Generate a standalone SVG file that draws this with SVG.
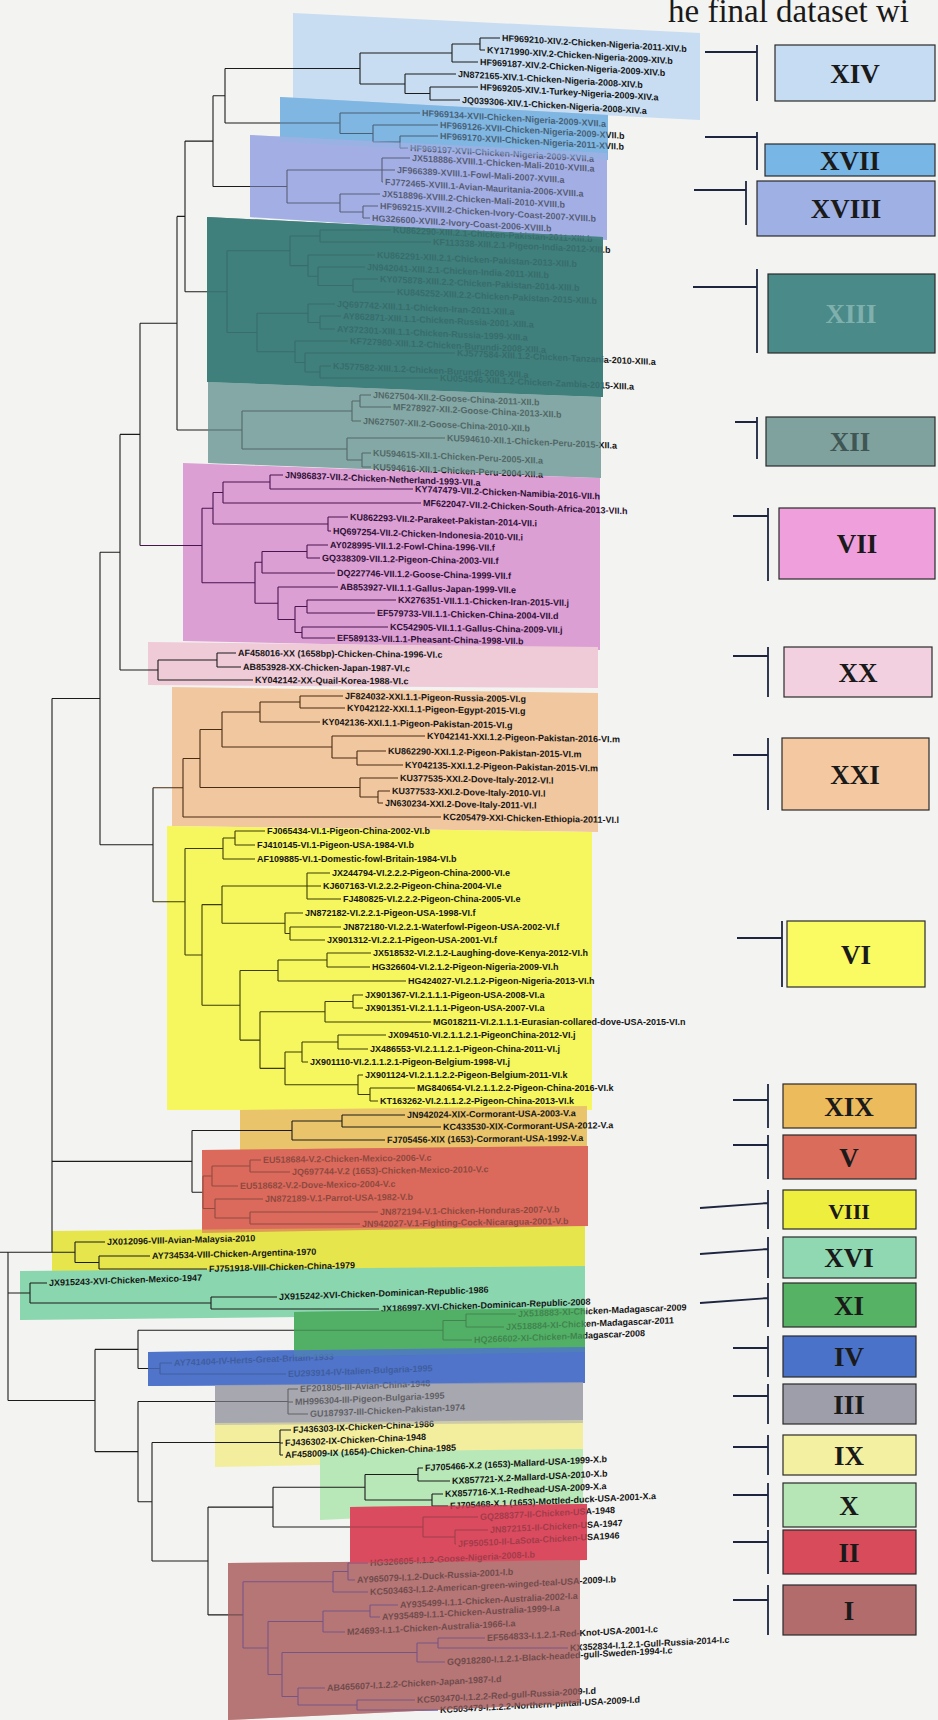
<svg xmlns="http://www.w3.org/2000/svg" width="938" height="1720" viewBox="0 0 938 1720">
<style>
.t{font-family:'Liberation Sans',Arial,sans-serif;font-size:9px;font-weight:bold;fill:#151515}
.tv{fill:#2e0f36}
.ln{fill:none;stroke:#1c1c1c;stroke-width:1.1}
.box{stroke:#2a2a2a;stroke-width:1.2}
.bt{font-family:'Liberation Serif','Times New Roman',serif;font-size:27px;font-weight:bold;fill:#1a1a1a;text-anchor:middle}
.br{fill:none;stroke:#1d2540;stroke-width:1.8}
</style>
<rect width="938" height="1720" fill="#f3f3f1"/>
<text x="668" y="22" font-family="'Liberation Serif','Times New Roman',serif" font-size="33" fill="#1a1a1a">he final dataset wi</text>

<g id="bands">
<polygon fill="#c8ddf1" points="293,13 700,33 700,120 293,100"/>
<polygon fill="#80b6e2" points="280,97 608,115 608,160 280,142"/>
<polygon fill="#a3b0e4" points="250,135 607,153 607,240 250,217"/>
<polygon fill="#3f7f7d" points="207,217 603,237 603,397 207,382"/>
<polygon fill="#84a8a5" points="208,382 601,397 601,478 208,463"/>
<polygon fill="#dc9fd3" points="183,463 600,478 600,650 183,641"/>
<polygon fill="#efcbd8" points="148,642 598,647 598,688 148,685"/>
<polygon fill="#f1c7a0" points="172,687 598,693 598,832 172,826"/>
<polygon fill="#f6f65e" points="167,826 592,832 592,1110 167,1110"/>
<polygon fill="#e9c46b" points="240,1110 587,1106 587,1152 240,1152"/>
<polygon fill="#db6a5c" points="202,1150 588,1146 588,1226 202,1233"/>
<polygon fill="#e6e64c" points="52,1231 585,1226 585,1270 52,1276"/>
<polygon fill="#8ad6ae" points="20,1271 585,1266 585,1314 20,1320"/>
<polygon fill="#52b066" points="294,1312 585,1308 585,1352 294,1357"/>
<polygon fill="#4f74c9" points="148,1352 585,1347 585,1383 148,1386"/>
<polygon fill="#a7a7b0" points="215,1385 583,1382 583,1423 215,1425"/>
<polygon fill="#f2ee9e" points="215,1423 583,1420 583,1460 215,1467"/>
<polygon fill="#b8e7b8" points="320,1452 583,1449 583,1508 320,1520"/>
<polygon fill="#b67677" points="228,1563 580,1560 580,1703 228,1720"/>
<polygon fill="#da4c5f" points="350,1507 587,1504 587,1560 350,1563"/>
</g>

<g id="connectors">
<path id="c-backbone" class="ln" d="M225,68.5V123 M213,95.75V186.5 M213,95.75H225 M185,141.1V291.7 M185,141.1H213 M177,216.4V430 M177,216.4H185 M140,323.2V545.5 M140,323.2H177 M120,434.4V670 M120,434.4H140 M153,787.75V901.75 M100,552.2V844.75 M100,552.2H120 M100,844.75H153 M52,698.5V1252.25 M52,698.5H100 M0,1252.25H8 M8,1252.25V1400.5 M8,1400.5H95"/>
<path id="c-XIV" class="ln" d="M480,38V50 M480,38H500 M480,50H485 M452,44V62 M452,44H480 M452,62H478 M430,87V100 M430,87H478 M430,100H460 M405,74V93.5 M405,74H456 M405,93.5H430 M360,53V84 M360,53H452 M360,84H405 M225,68.5H360"/>
<path id="c-XVII" class="ln" d="M400,136V148 M400,136H438 M400,148H408 M373,125V142 M373,125H438 M373,142H400 M340,113V133.5 M340,113H420 M340,133.5H373 M225,123H340"/>
<path id="c-XVIII" class="ln" d="M382,158V182 M382,158H410 M382,170H395 M382,182H383 M363,206V218 M363,206H378 M363,218H370 M340,194V212 M340,194H380 M340,212H363 M287,170V203 M287,170H382 M287,203H340 M213,186.5H287"/>
<path id="c-XIII" class="ln" d="M320,230V242 M320,230H391 M320,242H431 M353,279V292 M353,279H378 M353,292H395 M318,267V285.5 M318,267H365 M318,285.5H353 M308,255V276.25 M308,255H375 M308,276.25H318 M290,236V265.6 M290,236H320 M290,265.6H308 M320,316V329 M320,316H341 M320,329H335 M308,304V322.5 M308,304H335 M308,322.5H320 M320,366V378 M320,366H331 M320,378H438 M305,353V372 M305,353H455 M305,372H320 M295,341V362.5 M295,341H348 M295,362.5H305 M257,313.25V351.75 M257,313.25H308 M257,351.75H295 M227,250.8V332.5 M227,250.8H290 M227,332.5H257 M185,291.7H227"/>
<path id="c-XII" class="ln" d="M360,395V407 M360,395H371 M360,407H391 M352,401V421 M352,401H360 M352,421H361 M362,453V467 M362,453H371 M362,467H371 M347,438V460 M347,438H445 M347,460H362 M242,411V449 M242,411H352 M242,449H347 M177,430H242"/>
<path id="c-VII" class="ln" style="stroke:#4a1450" d="M270,475V489 M270,475H283 M270,489H413 M223,482V503 M223,482H270 M223,503H421 M328,517V531 M328,517H348 M328,531H331 M213,492.5V524 M213,492.5H223 M213,524H328 M307,545V558 M307,545H328 M307,558H320 M262,551.5V573 M262,551.5H307 M262,573H335 M307,600V613 M307,600H396 M307,613H375 M302,627V638 M302,627H388 M302,638H335 M295,606.5V632.5 M295,606.5H307 M295,632.5H302 M278,587V619.5 M278,587H338 M278,619.5H295 M255,562.25V603.25 M255,562.25H262 M255,603.25H278 M202,508.25V582.75 M202,508.25H213 M202,582.75H255 M140,545.5H202"/>
<path id="c-XX" class="ln" d="M217,653V667 M217,653H236 M217,667H241 M158,660V680 M158,660H217 M158,680H253 M120,670H158"/>
<path id="c-XXI" class="ln" style="stroke:#4a2c12" d="M300,696V708 M300,696H343 M300,708H345 M260,702V722 M260,702H300 M260,722H320 M357,751V765 M357,751H386 M357,765H403 M332,736V758 M332,736H425 M332,758H357 M222,712V747 M222,712H260 M222,747H332 M378,791V803 M378,791H390 M378,803H383 M360,778V797 M360,778H398 M360,797H378 M200,729.5V787.5 M200,729.5H222 M200,787.5H360 M183,758.5V817 M183,758.5H200 M183,817H441 M153,787.75H183"/>
<path id="c-VI" class="ln" style="stroke:#3d3d05" d="M235,831V845 M235,831H265 M235,845H255 M223,838V859 M223,838H235 M223,859H255 M307,873V899 M307,873H330 M307,886H321 M307,899H341 M290,927V940 M290,927H341 M290,940H325 M285,913V933.5 M285,913H303 M285,933.5H290 M222,886V923.25 M222,886H307 M222,923.25H285 M327,953V967 M327,953H371 M327,967H370 M278,960V981 M278,960H327 M278,981H406 M353,995V1008 M353,995H363 M353,1008H363 M325,1001.5V1022 M325,1001.5H353 M325,1022H431 M338,1035V1049 M338,1035H386 M338,1049H368 M302,1042V1062 M302,1042H338 M302,1062H308 M370,1088V1101 M370,1088H415 M370,1101H378 M358,1075V1094.5 M358,1075H363 M358,1094.5H370 M285,1052V1084.75 M285,1052H302 M285,1084.75H358 M260,1011.75V1068.4 M260,1011.75H325 M260,1068.4H285 M240,970.5V1040.1 M240,970.5H278 M240,1040.1H260 M202,904.6V1005.3 M202,904.6H222 M202,1005.3H240 M185,848.5V955 M185,848.5H223 M185,955H202 M153,901.75H185"/>
<path id="c-XIX-V" class="ln" d="M342,1115V1127 M342,1115H405 M342,1127H441 M292,1121V1140 M292,1121H342 M292,1140H385 M250,1160V1172 M250,1160H261 M250,1172H290 M212,1166V1186 M212,1166H250 M212,1186H238 M250,1212V1224 M250,1212H378 M250,1224H360 M215,1199V1218 M215,1199H263 M215,1218H250 M203,1176V1208.5 M203,1176H212 M203,1208.5H215 M192,1130.5V1192.25 M192,1130.5H292 M192,1192.25H203 M52,1161.4H192"/>
<path id="c-VIII" class="ln" d="M99,1256V1269 M99,1256H150 M99,1269H207 M75,1242V1262.5 M75,1242H105 M75,1262.5H99 M8,1252.25H75"/>
<path id="c-XVI" class="ln" d="M211,1297V1309 M211,1297H277 M211,1309H379 M30,1283V1303 M30,1283H47 M30,1303H211 M8,1293H30"/>
<path id="c-XI-IV" class="ln" d="M466,1314V1327 M466,1314H516 M466,1327H504 M443,1320.5V1340 M443,1320.5H466 M443,1340H472 M160,1363V1374 M160,1363H172 M160,1374H286 M138,1330.25V1368.5 M138,1330.25H443 M138,1368.5H160 M95,1349.4V1451.6 M95,1349.4H138 M95,1451.6H138"/>
<path id="c-III-IX" class="ln" d="M288,1389V1414 M288,1389H298 M288,1402H293 M288,1414H308 M280,1430V1455 M280,1430H291 M280,1443H283 M280,1455H283 M138,1401.5V1501.75 M138,1401.5H288 M138,1501.75H152 M152,1442.5V1561 M152,1442.5H280 M152,1561H208"/>
<path id="c-X-II" class="ln" d="M418,1468V1481 M418,1468H423 M418,1481H450 M432,1494V1506 M432,1494H443 M432,1506H448 M365,1474.5V1500 M365,1474.5H418 M365,1500H432 M455,1530V1544 M455,1530H488 M455,1544H456 M423,1517V1537 M423,1517H478 M423,1537H455 M273,1487.25V1527 M273,1487.25H365 M273,1527H423 M208,1507.1V1614.9 M208,1507.1H273 M208,1614.9H243"/>
<path id="c-I" class="ln" style="stroke:#2b2b9a" d="M348,1563V1580 M348,1563H368 M348,1580H355 M333,1571.5V1592 M333,1571.5H348 M333,1592H368 M370,1605V1617 M370,1605H398 M370,1617H380 M323,1611V1632 M323,1611H370 M323,1632H345 M438,1638V1648 M438,1638H485 M438,1648H568 M417,1643V1662 M417,1643H438 M417,1662H445 M357,1700V1710 M357,1700H415 M357,1710H438 M298,1688V1705 M298,1688H325 M298,1705H357 M282,1652.5V1696.5 M282,1652.5H417 M282,1696.5H298 M268,1621.5V1674.5 M268,1621.5H323 M268,1674.5H282 M243,1581.75V1648 M243,1581.75H333 M243,1648H268"/>
</g>

<g id="leaves">
<g id="n-XIV">
<text class="t" transform="translate(502 41) skewY(3.4)">HF969210-XIV.2-Chicken-Nigeria-2011-XIV.b</text>
<text class="t" transform="translate(487 53) skewY(3.4)">KY171990-XIV.2-Chicken-Nigeria-2009-XIV.b</text>
<text class="t" transform="translate(480 65) skewY(3.4)">HF969187-XIV.2-Chicken-Nigeria-2009-XIV.b</text>
<text class="t" transform="translate(458 77) skewY(3.4)">JN872165-XIV.1-Chicken-Nigeria-2008-XIV.b</text>
<text class="t" transform="translate(480 90) skewY(3.4)">HF969205-XIV.1-Turkey-Nigeria-2009-XIV.a</text>
<text class="t" transform="translate(462 103) skewY(3.4)">JQ039306-XIV.1-Chicken-Nigeria-2008-XIV.a</text>
</g>
<g id="n-XVII">
<text class="t" transform="translate(422 116) skewY(3.4)">HF969134-XVII-Chicken-Nigeria-2009-XVII.a</text>
<text class="t" transform="translate(440 128) skewY(3.4)">HF969126-XVII-Chicken-Nigeria-2009-XVII.b</text>
<text class="t" transform="translate(440 139) skewY(3.4)">HF969170-XVII-Chicken-Nigeria-2011-XVII.b</text>
<text class="t" transform="translate(410 151) skewY(3.4)">HF969197-XVII-Chicken-Nigeria-2009-XVII.a</text>
</g>
<g id="n-XVIII">
<text class="t" transform="translate(412 161) skewY(3.4)">JX518886-XVIII.1-Chicken-Mali-2010-XVIII.a</text>
<text class="t" transform="translate(397 173) skewY(3.4)">JF966389-XVIII.1-Fowl-Mali-2007-XVIII.a</text>
<text class="t" transform="translate(385 185) skewY(3.4)">FJ772465-XVIII.1-Avian-Mauritania-2006-XVIII.a</text>
<text class="t" transform="translate(382 197) skewY(3.4)">JX518896-XVIII.2-Chicken-Mali-2010-XVIII.b</text>
<text class="t" transform="translate(380 209) skewY(3.4)">HF969215-XVIII.2-Chicken-Ivory-Coast-2007-XVIII.b</text>
<text class="t" transform="translate(372 221) skewY(3.4)">HG326600-XVIII.2-Ivory-Coast-2006-XVIII.b</text>
</g>
<g id="n-XIII">
<text class="t" transform="translate(393 233) skewY(2.6)">KU862290-XIII.2.1-Chicken-Pakistan-2011-XIII.b</text>
<text class="t" transform="translate(433 245) skewY(2.6)">KF113338-XIII.2.1-Pigeon-India-2012-XIII.b</text>
<text class="t" transform="translate(377 258) skewY(2.6)">KU862291-XIII.2.1-Chicken-Pakistan-2013-XIII.b</text>
<text class="t" transform="translate(367 270) skewY(2.6)">JN942041-XIII.2.1-Chicken-India-2011-XIII.b</text>
<text class="t" transform="translate(380 282) skewY(2.6)">KY075878-XIII.2.2-Chicken-Pakistan-2014-XIII.b</text>
<text class="t" transform="translate(397 295) skewY(2.6)">KU845252-XIII.2.2-Chicken-Pakistan-2015-XIII.b</text>
<text class="t" transform="translate(337 307) skewY(2.6)">JQ697742-XIII.1.1-Chicken-Iran-2011-XIII.a</text>
<text class="t" transform="translate(343 319) skewY(2.6)">AY862871-XIII.1.1-Chicken-Russia-2001-XIII.a</text>
<text class="t" transform="translate(337 332) skewY(2.6)">AY372301-XIII.1.1-Chicken-Russia-1999-XIII.a</text>
<text class="t" transform="translate(350 344) skewY(2.6)">KF727980-XIII.1.2-Chicken-Burundi-2008-XIII.a</text>
<text class="t" transform="translate(457 356) skewY(2.6)">KJ577584-XIII.1.2-Chicken-Tanzania-2010-XIII.a</text>
<text class="t" transform="translate(333 369) skewY(2.6)">KJ577582-XIII.1.2-Chicken-Burundi-2008-XIII.a</text>
<text class="t" transform="translate(440 381) skewY(2.6)">KU054546-XIII.1.2-Chicken-Zambia-2015-XIII.a</text>
</g>
<g id="n-XII">
<text class="t" transform="translate(373 398) skewY(2.6)">JN627504-XII.2-Goose-China-2011-XII.b</text>
<text class="t" transform="translate(393 410) skewY(2.6)">MF278927-XII.2-Goose-China-2013-XII.b</text>
<text class="t" transform="translate(363 424) skewY(2.6)">JN627507-XII.2-Goose-China-2010-XII.b</text>
<text class="t" transform="translate(447 441) skewY(2.6)">KU594610-XII.1-Chicken-Peru-2015-XII.a</text>
<text class="t" transform="translate(373 456) skewY(2.6)">KU594615-XII.1-Chicken-Peru-2005-XII.a</text>
<text class="t" transform="translate(373 470) skewY(2.6)">KU594616-XII.1-Chicken-Peru-2004-XII.a</text>
</g>
<g id="n-VII">
<text class="t tv" transform="translate(285 478) skewY(2.3)">JN986837-VII.2-Chicken-Netherland-1993-VII.a</text>
<text class="t tv" transform="translate(415 492) skewY(2.3)">KY747479-VII.2-Chicken-Namibia-2016-VII.h</text>
<text class="t tv" transform="translate(423 506) skewY(2.3)">MF622047-VII.2-Chicken-South-Africa-2013-VII.h</text>
<text class="t tv" transform="translate(350 520) skewY(2)">KU862293-VII.2-Parakeet-Pakistan-2014-VII.i</text>
<text class="t tv" transform="translate(333 534) skewY(2)">HQ697254-VII.2-Chicken-Indonesia-2010-VII.i</text>
<text class="t tv" transform="translate(330 548) skewY(1)">AY028995-VII.1.2-Fowl-China-1996-VII.f</text>
<text class="t tv" transform="translate(322 561) skewY(1)">GQ338309-VII.1.2-Pigeon-China-2003-VII.f</text>
<text class="t tv" transform="translate(337 576) skewY(1)">DQ227746-VII.1.2-Goose-China-1999-VII.f</text>
<text class="t tv" transform="translate(340 590) skewY(1)">AB853927-VII.1.1-Gallus-Japan-1999-VII.e</text>
<text class="t tv" transform="translate(398 603) skewY(1)">KX276351-VII.1.1-Chicken-Iran-2015-VII.j</text>
<text class="t tv" transform="translate(377 616) skewY(1)">EF579733-VII.1.1-Chicken-China-2004-VII.d</text>
<text class="t tv" transform="translate(390 630) skewY(1)">KC542905-VII.1.1-Gallus-China-2009-VII.j</text>
<text class="t tv" transform="translate(337 641) skewY(1)">EF589133-VII.1.1-Pheasant-China-1998-VII.b</text>
</g>
<g id="n-XX">
<text class="t" transform="translate(238 656) skewY(0.5)">AF458016-XX (1658bp)-Chicken-China-1996-VI.c</text>
<text class="t" transform="translate(243 670) skewY(0.5)">AB853928-XX-Chicken-Japan-1987-VI.c</text>
<text class="t" transform="translate(255 683) skewY(0.5)">KY042142-XX-Quail-Korea-1988-VI.c</text>
</g>
<g id="n-XXI">
<text class="t" transform="translate(345 699) skewY(1)">JF824032-XXI.1.1-Pigeon-Russia-2005-VI.g</text>
<text class="t" transform="translate(347 711) skewY(1)">KY042122-XXI.1.1-Pigeon-Egypt-2015-VI.g</text>
<text class="t" transform="translate(322 725) skewY(1)">KY042136-XXI.1.1-Pigeon-Pakistan-2015-VI.g</text>
<text class="t" transform="translate(427 739) skewY(1)">KY042141-XXI.1.2-Pigeon-Pakistan-2016-VI.m</text>
<text class="t" transform="translate(388 754) skewY(1)">KU862290-XXI.1.2-Pigeon-Pakistan-2015-VI.m</text>
<text class="t" transform="translate(405 768) skewY(1)">KY042135-XXI.1.2-Pigeon-Pakistan-2015-VI.m</text>
<text class="t" transform="translate(400 781) skewY(1)">KU377535-XXI.2-Dove-Italy-2012-VI.l</text>
<text class="t" transform="translate(392 794) skewY(1)">KU377533-XXI.2-Dove-Italy-2010-VI.l</text>
<text class="t" transform="translate(385 806) skewY(1)">JN630234-XXI.2-Dove-Italy-2011-VI.l</text>
<text class="t" transform="translate(443 820) skewY(1)">KC205479-XXI-Chicken-Ethiopia-2011-VI.l</text>
</g>
<g id="n-VI">
<text class="t" x="267" y="834">FJ065434-VI.1-Pigeon-China-2002-VI.b</text>
<text class="t" x="257" y="848">FJ410145-VI.1-Pigeon-USA-1984-VI.b</text>
<text class="t" x="257" y="862">AF109885-VI.1-Domestic-fowl-Britain-1984-VI.b</text>
<text class="t" x="332" y="876">JX244794-VI.2.2.2-Pigeon-China-2000-VI.e</text>
<text class="t" x="323" y="889">KJ607163-VI.2.2.2-Pigeon-China-2004-VI.e</text>
<text class="t" x="343" y="902">FJ480825-VI.2.2.2-Pigeon-China-2005-VI.e</text>
<text class="t" x="305" y="916">JN872182-VI.2.2.1-Pigeon-USA-1998-VI.f</text>
<text class="t" x="343" y="930">JN872180-VI.2.2.1-Waterfowl-Pigeon-USA-2002-VI.f</text>
<text class="t" x="327" y="943">JX901312-VI.2.2.1-Pigeon-USA-2001-VI.f</text>
<text class="t" x="373" y="956">JX518532-VI.2.1.2-Laughing-dove-Kenya-2012-VI.h</text>
<text class="t" x="372" y="970">HG326604-VI.2.1.2-Pigeon-Nigeria-2009-VI.h</text>
<text class="t" x="408" y="984">HG424027-VI.2.1.2-Pigeon-Nigeria-2013-VI.h</text>
<text class="t" x="365" y="998">JX901367-VI.2.1.1.1-Pigeon-USA-2008-VI.a</text>
<text class="t" x="365" y="1011">JX901351-VI.2.1.1.1-Pigeon-USA-2007-VI.a</text>
<text class="t" x="433" y="1025">MG018211-VI.2.1.1.1-Eurasian-collared-dove-USA-2015-VI.n</text>
<text class="t" x="388" y="1038">JX094510-VI.2.1.1.2.1-PigeonChina-2012-VI.j</text>
<text class="t" x="370" y="1052">JX486553-VI.2.1.1.2.1-Pigeon-China-2011-VI.j</text>
<text class="t" x="310" y="1065">JX901110-VI.2.1.1.2.1-Pigeon-Belgium-1998-VI.j</text>
<text class="t" x="365" y="1078">JX901124-VI.2.1.1.2.2-Pigeon-Belgium-2011-VI.k</text>
<text class="t" x="417" y="1091">MG840654-VI.2.1.1.2.2-Pigeon-China-2016-VI.k</text>
<text class="t" x="380" y="1104">KT163262-VI.2.1.1.2.2-Pigeon-China-2013-VI.k</text>
</g>
<g id="n-XIX">
<text class="t" transform="translate(407 1118) skewY(-0.6)">JN942024-XIX-Cormorant-USA-2003-V.a</text>
<text class="t" transform="translate(443 1130) skewY(-0.6)">KC433530-XIX-Cormorant-USA-2012-V.a</text>
<text class="t" transform="translate(387 1143) skewY(-0.6)">FJ705456-XIX (1653)-Cormorant-USA-1992-V.a</text>
</g>
<g id="n-V">
<text class="t" transform="translate(263 1163) skewY(-0.8)">EU518684-V.2-Chicken-Mexico-2006-V.c</text>
<text class="t" transform="translate(292 1175) skewY(-0.8)">JQ697744-V.2 (1653)-Chicken-Mexico-2010-V.c</text>
<text class="t" transform="translate(240 1189) skewY(-0.8)">EU518682-V.2-Dove-Mexico-2004-V.c</text>
<text class="t" transform="translate(265 1202) skewY(-0.8)">JN872189-V.1-Parrot-USA-1982-V.b</text>
<text class="t" transform="translate(380 1215) skewY(-0.8)">JN872194-V.1-Chicken-Honduras-2007-V.b</text>
<text class="t" transform="translate(362 1227) skewY(-0.8)">JN942027-V.1-Fighting-Cock-Nicaragua-2001-V.b</text>
</g>
<g id="n-VIII">
<text class="t" transform="translate(107 1245) skewY(-1.5)">JX012096-VIII-Avian-Malaysia-2010</text>
<text class="t" transform="translate(152 1259) skewY(-1.5)">AY734534-VIII-Chicken-Argentina-1970</text>
<text class="t" transform="translate(209 1272) skewY(-1.5)">FJ751918-VIII-Chicken-China-1979</text>
</g>
<g id="n-XVI">
<text class="t" transform="translate(49 1286) skewY(-2)">JX915243-XVI-Chicken-Mexico-1947</text>
<text class="t" transform="translate(279 1300) skewY(-2)">JX915242-XVI-Chicken-Dominican-Republic-1986</text>
<text class="t" transform="translate(381 1312) skewY(-2)">JX186997-XVI-Chicken-Dominican-Republic-2008</text>
</g>
<g id="n-XI">
<text class="t" transform="translate(518 1317) skewY(-2.3)">JX518883-XI-Chicken-Madagascar-2009</text>
<text class="t" transform="translate(506 1330) skewY(-2.3)">JX518884-XI-Chicken-Madagascar-2011</text>
<text class="t" transform="translate(474 1343) skewY(-2.3)">HQ266602-XI-Chicken-Madagascar-2008</text>
</g>
<g id="n-IV">
<text class="t" transform="translate(174 1366) skewY(-2.3)">AY741404-IV-Herts-Great-Britain-1933</text>
<text class="t" transform="translate(288 1377) skewY(-2.3)">EU293914-IV-Italien-Bulgaria-1995</text>
</g>
<g id="n-III">
<text class="t" transform="translate(300 1392) skewY(-2.5)">EF201805-III-Avian-China-1948</text>
<text class="t" transform="translate(295 1405) skewY(-2.5)">MH996304-III-Pigeon-Bulgaria-1995</text>
<text class="t" transform="translate(310 1417) skewY(-2.5)">GU187937-III-Chicken-Pakistan-1974</text>
</g>
<g id="n-IX">
<text class="t" transform="translate(293 1433) skewY(-2.5)">FJ436303-IX-Chicken-China-1986</text>
<text class="t" transform="translate(285 1446) skewY(-2.5)">FJ436302-IX-Chicken-China-1948</text>
<text class="t" transform="translate(285 1458) skewY(-2.5)">AF458009-IX (1654)-Chicken-China-1985</text>
</g>
<g id="n-X">
<text class="t" transform="translate(425 1471) skewY(-2.8)">FJ705466-X.2 (1653)-Mallard-USA-1999-X.b</text>
<text class="t" transform="translate(452 1484) skewY(-2.8)">KX857721-X.2-Mallard-USA-2010-X.b</text>
<text class="t" transform="translate(445 1497) skewY(-2.8)">KX857716-X.1-Redhead-USA-2009-X.a</text>
<text class="t" transform="translate(450 1509) skewY(-2.8)">FJ705468-X.1 (1653)-Mottled-duck-USA-2001-X.a</text>
</g>
<g id="n-II">
<text class="t" transform="translate(480 1520) skewY(-3)">GQ288377-II-Chicken-USA-1948</text>
<text class="t" transform="translate(490 1533) skewY(-3)">JN872151-II-Chicken-USA-1947</text>
<text class="t" transform="translate(458 1547) skewY(-3)">JF950510-II-LaSota-Chicken-USA1946</text>
</g>
<g id="n-I">
<text class="t" transform="translate(370 1566) skewY(-3)">HG326605-I.1.2-Goose-Nigeria-2008-I.b</text>
<text class="t" transform="translate(357 1583) skewY(-3)">AY965079-I.1.2-Duck-Russia-2001-I.b</text>
<text class="t" transform="translate(370 1595) skewY(-3)">KC503463-I.1.2-American-green-winged-teal-USA-2009-I.b</text>
<text class="t" transform="translate(400 1608) skewY(-3)">AY935499-I.1.1-Chicken-Australia-2002-I.a</text>
<text class="t" transform="translate(382 1620) skewY(-3)">AY935489-I.1.1-Chicken-Australia-1999-I.a</text>
<text class="t" transform="translate(347 1635) skewY(-3)">M24693-I.1.1-Chicken-Australia-1966-I.a</text>
<text class="t" transform="translate(487 1641) skewY(-3)">EF564833-I.1.2.1-Red-Knot-USA-2001-I.c</text>
<text class="t" transform="translate(570 1651) skewY(-3)">KX352834-I.1.2.1-Gull-Russia-2014-I.c</text>
<text class="t" transform="translate(447 1665) skewY(-3)">GQ918280-I.1.2.1-Black-headed-gull-Sweden-1994-I.c</text>
<text class="t" transform="translate(327 1691) skewY(-3)">AB465607-I.1.2.2-Chicken-Japan-1987-I.d</text>
<text class="t" transform="translate(417 1703) skewY(-3)">KC503470-I.1.2.2-Red-gull-Russia-2009-I.d</text>
<text class="t" transform="translate(440 1713) skewY(-3)">KC503479-I.1.2.2-Northern-pintail-USA-2009-I.d</text>
</g>
</g>

<g id="overlays">
<polygon fill="#80b6e2" opacity="0.45" points="280,97 608,115 608,160 280,142"/>
<polygon fill="#a3b0e4" opacity="0.45" points="250,135 607,153 607,240 250,217"/>
<polygon fill="#3f7f7d" opacity="0.82" points="207,217 603,237 603,397 207,382"/>
<polygon fill="#84a8a5" opacity="0.55" points="208,382 601,397 601,478 208,463"/>
<polygon fill="#db6a5c" opacity="0.6" points="202,1150 588,1146 588,1226 202,1233"/>
<polygon fill="#52b066" opacity="0.7" points="294,1312 585,1308 585,1352 294,1357"/>
<polygon fill="#4f74c9" opacity="0.75" points="148,1352 585,1347 585,1383 148,1386"/>
<polygon fill="#a7a7b0" opacity="0.5" points="215,1385 583,1382 583,1423 215,1425"/>
<polygon fill="#b67677" opacity="0.55" points="228,1563 580,1560 580,1703 228,1720"/>
<polygon fill="#da4c5f" opacity="0.7" points="350,1507 587,1504 587,1560 350,1563"/>
</g>

<g id="legend">
<g id="lg-XIV"><path class="br" d="M705,52H757 M757,45V101"/><rect class="box" x="775" y="45" width="160" height="56" fill="#c6dcf2"/><text class="bt" x="855" y="83">XIV</text></g>
<g id="lg-XVII"><path class="br" d="M705,137H757 M757,132V170"/><rect class="box" x="765" y="144" width="170" height="32" fill="#78b6e6"/><text class="bt" x="850" y="170">XVII</text></g>
<g id="lg-XVIII"><path class="br" d="M694,190H746 M746,181V225"/><rect class="box" x="757" y="181" width="178" height="55" fill="#9fb0e5"/><text class="bt" x="846" y="218">XVIII</text></g>
<g id="lg-XIII"><path class="br" d="M693,287H757 M757,269V353"/><rect class="box" x="768" y="274" width="167" height="79" fill="#4a8a88"/><text class="bt" x="851" y="323" style="fill:#7fb0ad">XIII</text></g>
<g id="lg-XII"><path class="br" d="M735,422H757 M757,417V459"/><rect class="box" x="766" y="417" width="169" height="49" fill="#7fa29e"/><text class="bt" x="850" y="451" style="fill:#3f5654">XII</text></g>
<g id="lg-VII"><path class="br" d="M733,516H768 M768,508V581"/><rect class="box" x="779" y="508" width="156" height="71" fill="#ef9fdc"/><text class="bt" x="857" y="553">VII</text></g>
<g id="lg-XX"><path class="br" d="M733,656H768 M768,647V697"/><rect class="box" x="784" y="647" width="148" height="50" fill="#f3d0e0"/><text class="bt" x="858" y="682">XX</text></g>
<g id="lg-XXI"><path class="br" d="M733,755H768 M768,738V810"/><rect class="box" x="782" y="738" width="147" height="72" fill="#f4c9a2"/><text class="bt" x="855" y="784">XXI</text></g>
<g id="lg-VI"><path class="br" d="M737,938H782 M782,921V987"/><rect class="box" x="787" y="921" width="138" height="66" fill="#fafa62"/><text class="bt" x="856" y="964">VI</text></g>
<g id="lg-XIX"><path class="br" d="M733,1100H768 M768,1084V1128"/><rect class="box" x="783" y="1084" width="133" height="44" fill="#ebbb5c"/><text class="bt" x="849" y="1116">XIX</text></g>
<g id="lg-V"><path class="br" d="M733,1145H768 M768,1135V1179"/><rect class="box" x="783" y="1135" width="133" height="44" fill="#d96c5a"/><text class="bt" x="849" y="1167">V</text></g>
<g id="lg-VIII"><path class="br" d="M700,1208L768,1203 M768,1190V1229"/><rect class="box" x="783" y="1190" width="133" height="39" fill="#eeee3e"/><text class="bt" x="849" y="1219" style="font-size:22px">VIII</text></g>
<g id="lg-XVI"><path class="br" d="M700,1254L768,1249 M768,1237V1278"/><rect class="box" x="783" y="1237" width="133" height="41" fill="#8fd8b2"/><text class="bt" x="849" y="1267">XVI</text></g>
<g id="lg-XI"><path class="br" d="M700,1303L768,1298 M768,1283V1327"/><rect class="box" x="783" y="1283" width="133" height="44" fill="#56b264"/><text class="bt" x="849" y="1315">XI</text></g>
<g id="lg-IV"><path class="br" d="M733,1348H768 M768,1336V1377"/><rect class="box" x="783" y="1336" width="133" height="41" fill="#4a72c8"/><text class="bt" x="849" y="1366">IV</text></g>
<g id="lg-III"><path class="br" d="M733,1396H768 M768,1384V1424"/><rect class="box" x="783" y="1384" width="133" height="40" fill="#9e9eaa"/><text class="bt" x="849" y="1414">III</text></g>
<g id="lg-IX"><path class="br" d="M733,1447H768 M768,1435V1475"/><rect class="box" x="783" y="1435" width="133" height="40" fill="#f4f0a2"/><text class="bt" x="849" y="1465">IX</text></g>
<g id="lg-X"><path class="br" d="M733,1495H768 M768,1483V1527"/><rect class="box" x="783" y="1483" width="133" height="44" fill="#b6e6b6"/><text class="bt" x="849" y="1515">X</text></g>
<g id="lg-II"><path class="br" d="M733,1542H768 M768,1530V1574"/><rect class="box" x="783" y="1530" width="133" height="44" fill="#d84b5b"/><text class="bt" x="849" y="1562">II</text></g>
<g id="lg-I"><path class="br" d="M733,1600H768 M768,1585V1635"/><rect class="box" x="783" y="1585" width="133" height="50" fill="#b26c6c"/><text class="bt" x="849" y="1620">I</text></g>
</g>
</svg>
